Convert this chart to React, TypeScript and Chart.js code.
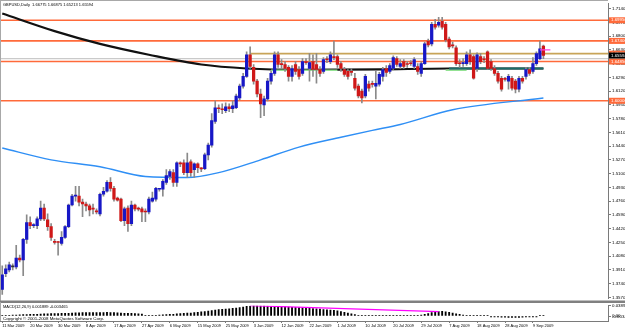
import React, { useEffect, useRef } from 'react';
import { Chart, registerables } from 'chart.js';

Chart.register(...registerables);

// ---------- data ----------
const SLOTS = 174; // bar slots across the plot (last candles + empty right margin)
const BARS_PER_LABEL = 8;
const dateLabels = ['11 Mar 2009', '20 Mar 2009', '30 Mar 2009', '8 Apr 2009', '17 Apr 2009', '27 Apr 2009', '6 May 2009', '15 May 2009', '25 May 2009', '3 Jun 2009', '12 Jun 2009', '22 Jun 2009', '1 Jul 2009', '10 Jul 2009', '20 Jul 2009', '29 Jul 2009', '7 Aug 2009', '18 Aug 2009', '28 Aug 2009', '9 Sep 2009'];

const opens = [1.3667, 1.3862, 1.3910, 1.3947, 1.3947, 1.4056, 1.4032, 1.4286, 1.4493, 1.4456,
  1.4456, 1.4541, 1.4675, 1.4529, 1.4444, 1.4262, 1.4250, 1.4238, 1.4311, 1.4444,
  1.4712, 1.4821, 1.4821, 1.4748, 1.4724, 1.4700, 1.4663, 1.4639, 1.4602, 1.4845,
  1.4882, 1.4991, 1.4918, 1.4797, 1.4784, 1.4517, 1.4675, 1.4481, 1.4712, 1.4663,
  1.4663, 1.4627, 1.4627, 1.4760, 1.4784, 1.4906, 1.4906, 1.4991, 1.5064, 1.5112,
  1.4991, 1.5222, 1.5234, 1.5112, 1.5246, 1.5149, 1.5222, 1.5161, 1.5161, 1.5331,
  1.5452, 1.5744, 1.5914, 1.5902, 1.5877, 1.5926, 1.5902, 1.5914, 1.6035, 1.6181,
  1.6302, 1.6569, 1.6412, 1.6242, 1.6084, 1.5950, 1.6023, 1.6242, 1.6339, 1.6569,
  1.6448, 1.6448, 1.6412, 1.6302, 1.6448, 1.6387, 1.6339, 1.6484, 1.6399, 1.6484,
  1.6448, 1.6387, 1.6363, 1.6509, 1.6484, 1.6545, 1.6545, 1.6460, 1.6387, 1.6363,
  1.6363, 1.6278, 1.6181, 1.6120, 1.6059, 1.6205, 1.6205, 1.6181, 1.6205, 1.6302,
  1.6399, 1.6363, 1.6399, 1.6521, 1.6424, 1.6484, 1.6460, 1.6460, 1.6424, 1.6424,
  1.6339, 1.6460, 1.6739, 1.6703, 1.6946, 1.6934, 1.6982, 1.6946, 1.6764, 1.6691,
  1.6654, 1.6460, 1.6460, 1.6460, 1.6569, 1.6545, 1.6399, 1.6545, 1.6509, 1.6606,
  1.6484, 1.6399, 1.6339, 1.6278, 1.6266, 1.6242, 1.6278, 1.6242, 1.6144, 1.6278,
  1.6302, 1.6387, 1.6363, 1.6460, 1.6521, 1.66775];

const highs = [1.3959, 1.3971, 1.4007, 1.3983, 1.4214, 1.4092, 1.4299, 1.4590, 1.4566, 1.4481,
  1.4566, 1.4760, 1.4724, 1.4602, 1.4481, 1.4286, 1.4262, 1.4384, 1.4456, 1.4724,
  1.4845, 1.4942, 1.4942, 1.4784, 1.4748, 1.4724, 1.4724, 1.4663, 1.4858, 1.4930,
  1.5015, 1.5052, 1.4942, 1.4809, 1.4797, 1.4687, 1.4700, 1.4760, 1.4724, 1.4687,
  1.4687, 1.4663, 1.4809, 1.4870, 1.4930, 1.4918, 1.5027, 1.5149, 1.5149, 1.5149,
  1.5246, 1.5246, 1.5270, 1.5355, 1.5270, 1.5234, 1.5234, 1.5173, 1.5355, 1.5477,
  1.5841, 1.5999, 1.5950, 1.5962, 1.5974, 1.5962, 1.5999, 1.6084, 1.6205, 1.6339,
  1.6606, 1.6667, 1.6448, 1.6266, 1.6144, 1.6059, 1.6278, 1.6363, 1.6606, 1.6606,
  1.6509, 1.6484, 1.6436, 1.6436, 1.6484, 1.6424, 1.6521, 1.6521, 1.6582, 1.6569,
  1.6582, 1.6424, 1.6533, 1.6545, 1.6606, 1.6739, 1.6569, 1.6484, 1.6412, 1.6387,
  1.6399, 1.6339, 1.6205, 1.6144, 1.6327, 1.6242, 1.6242, 1.6363, 1.6351, 1.6412,
  1.6436, 1.6460, 1.6557, 1.6545, 1.6509, 1.6509, 1.6484, 1.6497, 1.6533, 1.6460,
  1.6484, 1.6727, 1.6764, 1.6970, 1.7007, 1.7031, 1.7031, 1.6970, 1.6788, 1.6727,
  1.6679, 1.6509, 1.6521, 1.6606, 1.6630, 1.6569, 1.6594, 1.6582, 1.6545, 1.6618,
  1.6509, 1.6436, 1.6363, 1.6302, 1.6290, 1.6327, 1.6302, 1.6266, 1.6302, 1.6302,
  1.6412, 1.6412, 1.6533, 1.6606, 1.6739, 1.66875];

const lows = [1.3607, 1.3825, 1.3886, 1.3910, 1.3922, 1.4007, 1.3837, 1.4238, 1.4420, 1.4432,
  1.4420, 1.4517, 1.4517, 1.4396, 1.4274, 1.4226, 1.4092, 1.4214, 1.4299, 1.4432,
  1.4700, 1.4760, 1.4700, 1.4566, 1.4639, 1.4578, 1.4602, 1.4602, 1.4578, 1.4821,
  1.4870, 1.4882, 1.4760, 1.4760, 1.4505, 1.4456, 1.4384, 1.4456, 1.4639, 1.4639,
  1.4505, 1.4505, 1.4602, 1.4748, 1.4760, 1.4882, 1.4821, 1.4966, 1.5027, 1.4942,
  1.4942, 1.5185, 1.5088, 1.5052, 1.5064, 1.5052, 1.5112, 1.5124, 1.5149, 1.5270,
  1.5428, 1.5719, 1.5853, 1.5841, 1.5853, 1.5865, 1.5853, 1.5902, 1.6011, 1.6157,
  1.6290, 1.6399, 1.6205, 1.6047, 1.5792, 1.5817, 1.5999, 1.6205, 1.6314, 1.6412,
  1.6399, 1.6363, 1.6242, 1.6242, 1.6327, 1.6266, 1.6314, 1.6448, 1.6242, 1.6302,
  1.6217, 1.6302, 1.6339, 1.6472, 1.6460, 1.6509, 1.6412, 1.6363, 1.6302, 1.6266,
  1.6314, 1.6132, 1.6035, 1.5974, 1.6035, 1.6120, 1.6169, 1.6023, 1.6181, 1.6242,
  1.6302, 1.6339, 1.6387, 1.6424, 1.6399, 1.6399, 1.6412, 1.6436, 1.6399, 1.6327,
  1.6302, 1.6448, 1.6667, 1.6679, 1.6885, 1.6909, 1.6885, 1.6727, 1.6642, 1.6654,
  1.6436, 1.6412, 1.6424, 1.6436, 1.6448, 1.6266, 1.6363, 1.6460, 1.6472, 1.6387,
  1.6375, 1.6314, 1.6217, 1.6120, 1.6242, 1.6144, 1.6132, 1.6096, 1.6108, 1.6217,
  1.6266, 1.6314, 1.6339, 1.6436, 1.6509, 1.65213];

const closes = [1.3850, 1.3922, 1.3971, 1.3947, 1.4056, 1.4032, 1.4286, 1.4493, 1.4456, 1.4458,
  1.4541, 1.4675, 1.4541, 1.4444, 1.4311, 1.4250, 1.4248, 1.4311, 1.4444, 1.4712,
  1.4821, 1.4823, 1.4748, 1.4724, 1.4700, 1.4651, 1.4661, 1.4627, 1.4845, 1.4882,
  1.4991, 1.4918, 1.4784, 1.4772, 1.4517, 1.4663, 1.4481, 1.4712, 1.4663, 1.4661,
  1.4627, 1.4625, 1.4784, 1.4797, 1.4918, 1.4908, 1.5003, 1.5076, 1.5124, 1.4991,
  1.5234, 1.5220, 1.5112, 1.5234, 1.5112, 1.5222, 1.5173, 1.5159, 1.5331, 1.5452,
  1.5756, 1.5914, 1.5902, 1.5889, 1.5926, 1.5902, 1.5938, 1.6059, 1.6181, 1.6302,
  1.6569, 1.6424, 1.6242, 1.6084, 1.5962, 1.6023, 1.6242, 1.6339, 1.6569, 1.6448,
  1.6446, 1.6399, 1.6302, 1.6399, 1.6363, 1.6302, 1.6484, 1.6472, 1.6472, 1.6387,
  1.6387, 1.6339, 1.6509, 1.6507, 1.6569, 1.6533, 1.6448, 1.6399, 1.6327, 1.6302,
  1.6351, 1.6157, 1.6059, 1.6035, 1.6302, 1.6157, 1.6203, 1.6217, 1.6327, 1.6387,
  1.6351, 1.6436, 1.6533, 1.6448, 1.6460, 1.6424, 1.6448, 1.6458, 1.6509, 1.6363,
  1.6460, 1.6703, 1.6691, 1.6946, 1.6909, 1.6970, 1.6909, 1.6752, 1.6667, 1.6679,
  1.6460, 1.6458, 1.6472, 1.6569, 1.6484, 1.6278, 1.6569, 1.6484, 1.6507, 1.6399,
  1.6399, 1.6339, 1.6242, 1.6144, 1.6264, 1.6302, 1.6157, 1.6144, 1.6278, 1.6242,
  1.6387, 1.6339, 1.6460, 1.6582, 1.6642, 1.65594];

const slowMaIdx = [0, 15, 28, 42, 57, 70, 85, 108, 128, 155];
const slowMaVal = [1.7079, 1.6861, 1.6703, 1.6569, 1.6448, 1.6399, 1.6381, 1.6387, 1.6399, 1.6399];
const fastMaIdx = [0, 14, 28, 41, 53, 62, 74, 85, 97, 106, 114, 129, 155];
const fastMaVal = [1.5416, 1.5270, 1.5185, 1.5064, 1.5051, 1.5112, 1.5270, 1.5428, 1.5549, 1.5634, 1.5707, 1.5889, 1.6035];

// horizontal objects
const orangeLevels = [1.6995, 1.6740, 1.6485, 1.6000];
const goldLevel = 1.6582;
const goldFromIdx = 71;
const grayLevel = 1.6520;
const bidPrice = 1.65594;
const tealLevel = 1.6400;
const tealSeg = [128, 155];
const greenLevel = 1.6377;
const greenSegs = [[77, 96], [127, 133]];
const pinkLevel = 1.6630;
const pinkSeg = [154, 157];

const priceTicks = [1.357, 1.374, 1.391, 1.408, 1.425, 1.442, 1.459, 1.476, 1.493, 1.510, 1.527,
  1.544, 1.561, 1.578, 1.595, 1.612, 1.629, 1.646, 1.663, 1.680, 1.697, 1.714];
const priceMin = 1.35577;
const priceMax = 1.72007;

const macdHist = [0.0020, 0.0025, 0.0030, 0.0035, 0.0040, 0.0045, 0.0050, 0.0058, 0.0062, 0.0065,
  0.0068, 0.0075, 0.0078, 0.0085, 0.0090, 0.0092, 0.0095, 0.0098, 0.0100, 0.0105,
  0.0112, 0.0118, 0.0122, 0.0125, 0.0128, 0.0130, 0.0130, 0.0128, 0.0130, 0.0132,
  0.0135, 0.0132, 0.0125, 0.0118, 0.0108, 0.0105, 0.0098, 0.0100, 0.0090, 0.0082,
  0.0075, 0.0020, 0.0015, 0.0015, 0.0018, 0.0040, 0.0048, 0.0055, 0.0060, 0.0062,
  0.0080, 0.0090, 0.0098, 0.0108, 0.0115, 0.0125, 0.0140, 0.0155, 0.0170, 0.0185,
  0.0205, 0.0220, 0.0240, 0.0252, 0.0262, 0.0272, 0.0285, 0.0300, 0.0318, 0.0335,
  0.0360, 0.0378, 0.0388, 0.0390, 0.0385, 0.0380, 0.0370, 0.0362, 0.0368, 0.0365,
  0.0355, 0.0345, 0.0335, 0.0330, 0.0322, 0.0315, 0.0310, 0.0300, 0.0292, 0.0282,
  0.0270, 0.0258, 0.0245, 0.0232, 0.0222, 0.0215, 0.0195, 0.0170, 0.0140, 0.0110,
  0.0080, 0.0055, 0.0030, 0.0015, 0.0012, 0.0010, 0.0010, 0.0010, 0.0012, 0.0015,
  0.0015, 0.0018, 0.0020, 0.0020, 0.0022, 0.0022, 0.0025, 0.0025, 0.0028, 0.0030,
  0.0035, 0.0060, 0.0090, 0.0125, 0.0150, 0.0170, 0.0175, 0.0160, 0.0135, 0.0110,
  0.0085, 0.0060, 0.0040, 0.0030, 0.0022, 0.0015, 0.0012, 0.0010, 0.0008, 0.0002,
  -0.0010, -0.0018, -0.0030, -0.0040, -0.0045, -0.0050, -0.0052, -0.0055, -0.0050, -0.0045,
  -0.0035, -0.0025, -0.0012, -0.0002, 0.0010, 0.001889];
const macdTrendIdx = [71, 125];
const macdTrendVal = [0.0390, 0.0165];
const macdMin = -0.0187;
const macdMax = 0.0390;
const macdAxisValues = [0.03899, 0, -0.003465];
const macdAxisLabels = ['0.03899', '0.00', '-0.003465'];

const titleText = 'GBPUSD,Daily  1.66775 1.66875 1.65213 1.65594';
const macdTitle = 'MACD(12,26,9) 0.001889 -0.003465';
const copyrightText = 'Copyright \u00A9 2001-2008 MetaQuotes Software Corp.';

// ---------- styles ----------
const FONT = '"Liberation Sans", Arial, sans-serif';
const FS_AXIS_Y = 4.4;
const FS_AXIS_X = 4.0;
const FS_TITLE = 4.0;
const FS_COPY = 4.4;
const BULL = '#1717c6';
const BEAR = '#cf1818';
const DOJI = '#333333';
const WICK = '#8a8a8a';
const ORANGE = '#ff6a3a';
const AXIS = '#7a7a7a';
const TEXT = '#000000';

const pts = (idx: number[], val: number[]) => idx.map((x, k) => ({ x, y: val[k] }));
const seg = (a: number, b: number, v: number) => [{ x: a, y: v }, { x: b, y: v }];

const lineDs = (data: any[], color: string, width: number, order: number) => ({
  type: 'line' as const,
  data,
  borderColor: color,
  borderWidth: width,
  pointRadius: 0,
  tension: 0.4,
  cubicInterpolationMode: 'monotone' as const,
  fill: false,
  spanGaps: true,
  order,
});

export default function App() {
  const mainRef = useRef<HTMLCanvasElement>(null);
  const macdRef = useRef<HTMLCanvasElement>(null);

  useEffect(() => {
    const slots = Array.from({ length: SLOTS }, (_, i) => i);
    const wickData = opens.map((_, i) => [lows[i], highs[i]]);
    const bodyData = opens.map((o, i) => [o, closes[i]]);
    const bodyColors = opens.map((o, i) => (closes[i] > o ? BULL : closes[i] < o ? BEAR : DOJI));

    const mainDecor = {
      id: 'mainDecor',
      beforeDatasetsDraw(chart: any) {
        const { ctx, chartArea: a, scales } = chart;
        const y = scales.y;
        const x = scales.x;
        const hline = (v: number, color: string, w: number, x0: number, x1: number) => {
          const py = y.getPixelForValue(v);
          ctx.strokeStyle = color;
          ctx.lineWidth = w;
          ctx.beginPath();
          ctx.moveTo(x0, py);
          ctx.lineTo(x1, py);
          ctx.stroke();
        };
        ctx.save();
        hline(grayLevel, '#bdbdbd', 1, a.left, a.right);
        hline(goldLevel, '#c8a458', 1.8, x.getPixelForValue(goldFromIdx), a.right);
        orangeLevels.forEach((v) => hline(v, ORANGE, 1.6, a.left, a.right));
        ctx.restore();
      },
      afterDraw(chart: any) {
        const { ctx, chartArea: a, scales } = chart;
        const y = scales.y;
        ctx.save();
        ctx.font = `${FS_AXIS_Y}px ${FONT}`;
        ctx.textBaseline = 'middle';
        const box = (v: number, bg: string, fg: string) => {
          const py = y.getPixelForValue(v);
          ctx.fillStyle = bg;
          ctx.fillRect(a.right + 1, py - 3, 17, 6);
          ctx.fillStyle = fg;
          ctx.fillText(v.toFixed(5), a.right + 3, py);
        };
        [...orangeLevels, goldLevel].forEach((v) => box(v, ORANGE, '#ffffff'));
        box(bidPrice, '#000000', '#ffffff');
        // title
        ctx.font = `${FS_TITLE}px ${FONT}`;
        ctx.fillStyle = TEXT;
        ctx.fillText(titleText, 3, 5);
        // frame
        ctx.strokeStyle = '#a8a8a8';
        ctx.lineWidth = 1;
        ctx.beginPath();
        ctx.moveTo(0.5, 0);
        ctx.lineTo(0.5, 302);
        ctx.moveTo(0, 0.5);
        ctx.lineTo(a.right, 0.5);
        ctx.stroke();
        ctx.fillStyle = '#808080';
        ctx.fillRect(0, 300.5, 625, 1.5);
        ctx.restore();
      },
    };

    const main = new Chart(mainRef.current!, {
      type: 'bar',
      data: {
        labels: slots,
        datasets: [
          lineDs(pts(slowMaIdx, slowMaVal), '#111111', 2.2, 6) as any,
          lineDs(pts(fastMaIdx, fastMaVal), '#2f8ff5', 1.4, 6) as any,
          lineDs(seg(tealSeg[0], tealSeg[1], tealLevel), '#1c6d68', 2, 5) as any,
          ...greenSegs.map((s) => lineDs(seg(s[0], s[1], greenLevel), '#93e293', 1.5, 5) as any),
          {
            type: 'bar',
            data: wickData,
            backgroundColor: WICK,
            barThickness: 1,
            grouped: false,
            order: 3,
          } as any,
          {
            type: 'bar',
            data: bodyData,
            backgroundColor: bodyColors,
            barThickness: 2.6,
            minBarLength: 1,
            grouped: false,
            order: 2,
          } as any,
          lineDs(seg(pinkSeg[0], pinkSeg[1], pinkLevel), '#ff40e0', 1.3, 1) as any,
        ],
      },
      options: {
        responsive: false,
        animation: false,
        devicePixelRatio: 1,
        events: [],
        layout: { padding: { top: 1, bottom: 1, left: 0.5, right: 0 } },
        plugins: { legend: { display: false }, tooltip: { enabled: false } },
        scales: {
          x: { type: 'category', display: false, offset: true, grid: { display: false } },
          y: {
            position: 'right',
            min: priceMin,
            max: priceMax,
            afterFit: (s: any) => { s.width = 17; },
            afterBuildTicks: (s: any) => { s.ticks = priceTicks.map((v) => ({ value: v })); },
            ticks: {
              autoSkip: false,
              padding: 1,
              color: TEXT,
              font: { size: FS_AXIS_Y, family: FONT },
              callback: (v: any) => Number(v).toFixed(5),
            },
            grid: { drawOnChartArea: false, drawTicks: true, tickLength: 3, color: AXIS },
            border: { display: true, color: AXIS },
          },
        },
      },
      plugins: [mainDecor],
    } as any);

    const macdDecor = {
      id: 'macdDecor',
      afterDraw(chart: any) {
        const { ctx } = chart;
        ctx.save();
        ctx.textBaseline = 'middle';
        ctx.fillStyle = TEXT;
        ctx.font = `${FS_TITLE}px ${FONT}`;
        ctx.fillText(macdTitle, 3, 4.5);
        ctx.font = `${FS_COPY}px ${FONT}`;
        ctx.fillText(copyrightText, 3, 17);
        ctx.fillStyle = '#808080';
        ctx.fillRect(0, 0, 625, 1);
        ctx.strokeStyle = '#a8a8a8';
        ctx.lineWidth = 1;
        ctx.beginPath();
        ctx.moveTo(0.5, 0);
        ctx.lineTo(0.5, 19);
        ctx.stroke();
        ctx.restore();
      },
    };

    const macd = new Chart(macdRef.current!, {
      type: 'bar',
      data: {
        labels: slots,
        datasets: [
          {
            type: 'bar',
            data: macdHist,
            backgroundColor: '#000000',
            barThickness: 1.2,
            minBarLength: 0.8,
            grouped: false,
            order: 2,
          } as any,
          {
            type: 'line',
            data: pts(macdTrendIdx, macdTrendVal),
            borderColor: '#ff00ff',
            borderWidth: 1.2,
            pointRadius: 0,
            order: 1,
          } as any,
        ],
      },
      options: {
        responsive: false,
        animation: false,
        devicePixelRatio: 1,
        events: [],
        layout: { padding: { top: 2, bottom: 0, left: 0.5, right: 0 } },
        plugins: { legend: { display: false }, tooltip: { enabled: false } },
        scales: {
          x: {
            type: 'category',
            offset: true,
            afterFit: (s: any) => { s.height = 9; },
            grid: {
              display: true,
              drawOnChartArea: false,
              offset: false,
              tickLength: 2,
              color: (c: any) => (c.index % BARS_PER_LABEL === 0 && c.index / BARS_PER_LABEL < dateLabels.length ? AXIS : 'rgba(0,0,0,0)'),
            },
            border: { display: true, color: AXIS },
            ticks: {
              autoSkip: false,
              maxRotation: 0,
              minRotation: 0,
              align: 'start',
              padding: 0.5,
              color: TEXT,
              font: { size: FS_AXIS_X, family: FONT },
              callback: (_v: any, i: number) => (i % BARS_PER_LABEL === 0 ? dateLabels[i / BARS_PER_LABEL] ?? '' : ''),
            },
          },
          y: {
            position: 'right',
            min: macdMin,
            max: macdMax,
            afterFit: (s: any) => { s.width = 17; },
            afterBuildTicks: (s: any) => { s.ticks = macdAxisValues.map((v) => ({ value: v })); },
            ticks: {
              autoSkip: false,
              padding: 1,
              color: TEXT,
              font: { size: FS_AXIS_Y, family: FONT },
              callback: (_v: any, i: number) => macdAxisLabels[i],
            },
            grid: { drawOnChartArea: false, drawTicks: true, tickLength: 3, color: AXIS },
            border: { display: true, color: AXIS },
          },
        },
      },
      plugins: [macdDecor],
    } as any);

    return () => {
      main.destroy();
      macd.destroy();
    };
  }, []);

  return (
    <div style={{ position: 'fixed', left: 0, top: 0, width: 625, height: 330, background: '#ffffff' }}>
      <canvas ref={mainRef} width={625} height={302} style={{ position: 'absolute', left: 0, top: 0, width: 625, height: 302 }} />
      <canvas ref={macdRef} width={625} height={28} style={{ position: 'absolute', left: 0, top: 302, width: 625, height: 28 }} />
    </div>
  );
}
